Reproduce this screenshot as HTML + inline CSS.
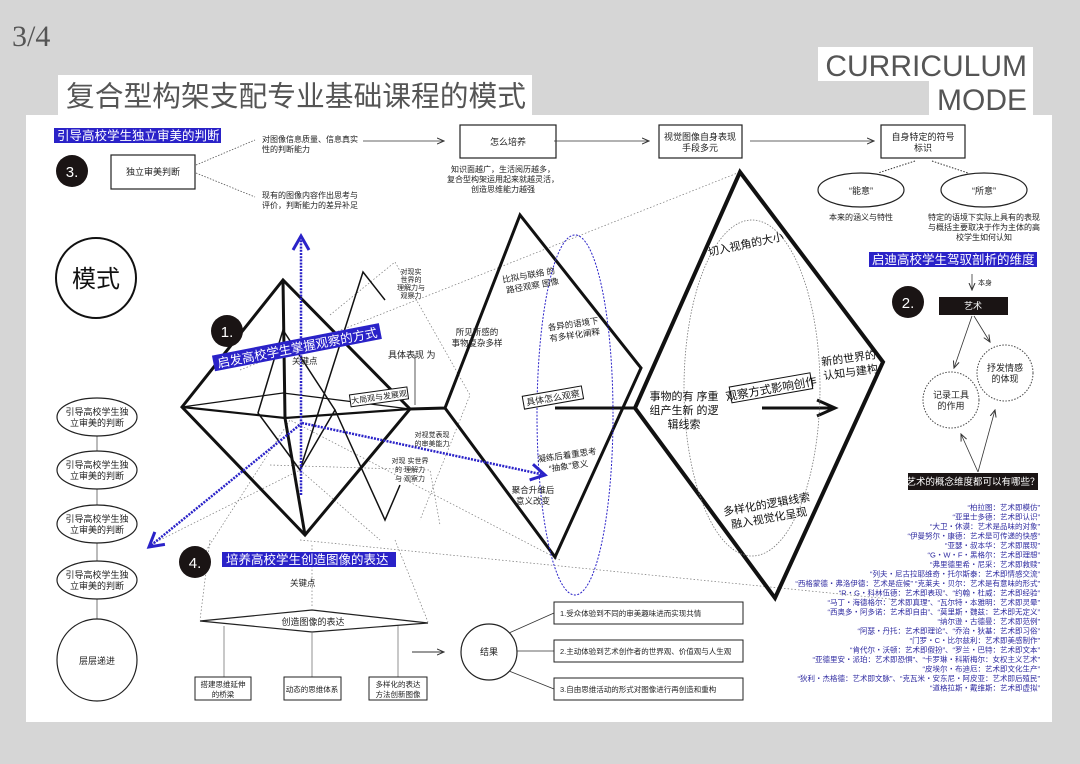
<!DOCTYPE html>
<html><head><meta charset="utf-8"><style>
html,body{margin:0;padding:0;background:#d6d6d6;}
svg{display:block;font-family:"Liberation Sans","Noto Sans CJK SC",sans-serif;}
</style></head><body>
<svg width="1080" height="764" viewBox="0 0 1080 764" xmlns="http://www.w3.org/2000/svg">
<defs>
<marker id="ah" markerWidth="8" markerHeight="8" refX="7" refY="4" orient="auto" markerUnits="userSpaceOnUse"><path d="M0,1 L7,4 L0,7" fill="none" stroke="#333" stroke-width="1"/></marker>
<marker id="bh" markerWidth="20" markerHeight="20" refX="16" refY="10" orient="auto" markerUnits="userSpaceOnUse"><path d="M2,2 L16,10 L2,18" fill="none" stroke="#2a22c8" stroke-width="3"/></marker>
<marker id="kh" markerWidth="24" markerHeight="20" refX="20" refY="10" orient="auto" markerUnits="userSpaceOnUse"><path d="M2,2 L20,10 L2,18" fill="none" stroke="#111" stroke-width="3"/></marker>
</defs>
<rect width="1080" height="764" fill="#d6d6d6"/>
<text x="12" y="46" font-family="Liberation Serif,serif" font-size="30" fill="#555">3/4</text>
<rect x="58" y="75" width="474" height="40" fill="#fff"/>
<text x="66" y="106" font-size="28.5" fill="#555" textLength="460" lengthAdjust="spacingAndGlyphs">复合型构架支配专业基础课程的模式</text>
<rect x="818" y="47" width="215" height="34" fill="#fff"/>
<rect x="929" y="81" width="104" height="34" fill="#fff"/>
<text x="1027" y="76" font-size="30" fill="#555" text-anchor="end">CURRICULUM</text>
<text x="1027" y="110" font-size="30" fill="#555" text-anchor="end">MODE</text>
<rect x="26" y="115" width="1026" height="607" fill="#fff"/>

<g font-size="8" fill="#222">
<rect x="54" y="128" width="167" height="15" fill="#2a22c8"/>
<text x="57" y="140" font-size="12.5" fill="#fff">引导高校学生独立审美的判断</text>
<circle cx="72" cy="171" r="16" fill="#1a1414"/>
<text x="72" y="177" font-size="15" fill="#fff" text-anchor="middle">3.</text>
<rect x="111" y="155" width="84" height="34" fill="none" stroke="#222" stroke-width="1.2"/>
<text x="153" y="175" font-size="9" text-anchor="middle">独立审美判断</text>
<path d="M196,165 L255,140 M196,173 L255,197" stroke="#555" stroke-dasharray="1.5,1.5" stroke-width=".8"/>
<text x="262" y="142">对图像信息质量、信息真实</text><text x="262" y="152">性的判断能力</text>
<text x="262" y="198">现有的图像内容作出思考与</text><text x="262" y="208">评价，判断能力的差异补足</text>
<line x1="363" y1="141" x2="444" y2="141" stroke="#333" stroke-width=".8" marker-end="url(#ah)"/>
<rect x="460" y="125" width="96" height="33" fill="none" stroke="#222" stroke-width="1.2"/>
<text x="508" y="145" font-size="9" text-anchor="middle">怎么培养</text>
<text x="503" y="172" text-anchor="middle">知识面越广，生活阅历越多，</text>
<text x="503" y="182" text-anchor="middle">复合型构架运用起来就越灵活，</text>
<text x="503" y="192" text-anchor="middle">创造思维能力越强</text>
<line x1="554" y1="141" x2="649" y2="141" stroke="#333" stroke-width=".8" marker-end="url(#ah)"/>
<rect x="659" y="125" width="83" height="33" fill="none" stroke="#222" stroke-width="1.2"/>
<text x="700" y="140" font-size="9" text-anchor="middle">视觉图像自身表现</text>
<text x="700" y="151" font-size="9" text-anchor="middle">手段多元</text>
<line x1="750" y1="141" x2="874" y2="141" stroke="#333" stroke-width=".8" marker-end="url(#ah)"/>
<rect x="881" y="125" width="84" height="33" fill="none" stroke="#222" stroke-width="1.2"/>
<text x="923" y="140" font-size="9" text-anchor="middle">自身特定的符号</text>
<text x="923" y="151" font-size="9" text-anchor="middle">标识</text>
<path d="M915,161 L878,173 M932,161 L968,173" stroke="#333" stroke-dasharray="1.5,1.5"/>
<ellipse cx="861" cy="190" rx="43" ry="17" fill="none" stroke="#222" stroke-width="1.2"/>
<ellipse cx="984" cy="190" rx="43" ry="17" fill="none" stroke="#222" stroke-width="1.2"/>
<text x="861" y="194" font-size="9" text-anchor="middle">“能意”</text>
<text x="984" y="194" font-size="9" text-anchor="middle">“所意”</text>
<text x="861" y="220" text-anchor="middle">本来的涵义与特性</text>
<text x="984" y="220" text-anchor="middle">特定的语境下实际上具有的表现</text>
<text x="984" y="230" text-anchor="middle">与概括主要取决于作为主体的高</text>
<text x="984" y="240" text-anchor="middle">校学生如何认知</text>
<rect x="869" y="252" width="168" height="15" fill="#2a22c8"/>
<text x="872" y="264" font-size="12.5" fill="#fff">启迪高校学生驾驭剖析的维度</text>
<line x1="972" y1="274" x2="972" y2="290" stroke="#333" stroke-width=".8" marker-end="url(#ah)"/>
<text x="978" y="285" font-size="7">本身</text>
<circle cx="908" cy="302" r="16" fill="#1a1414"/>
<text x="908" y="308" font-size="15" fill="#fff" text-anchor="middle">2.</text>
<rect x="939" y="297" width="69" height="18" fill="#1a1414"/>
<text x="973" y="309" font-size="9" fill="#fff" text-anchor="middle">艺术</text>
<line x1="972" y1="316" x2="954" y2="368" stroke="#333" stroke-width=".8" marker-end="url(#ah)"/>
<line x1="974" y1="316" x2="990" y2="342" stroke="#333" stroke-width=".8" marker-end="url(#ah)"/>
<circle cx="1005" cy="373" r="28" fill="none" stroke="#444" stroke-dasharray="1.5,1.5"/>
<text x="1005" y="371" font-size="9" text-anchor="middle">抒发情感</text><text x="1005" y="382" font-size="9" text-anchor="middle">的体现</text>
<circle cx="951" cy="400" r="28" fill="none" stroke="#444" stroke-dasharray="1.5,1.5"/>
<text x="951" y="398" font-size="9" text-anchor="middle">记录工具</text><text x="951" y="409" font-size="9" text-anchor="middle">的作用</text>
<line x1="978" y1="472" x2="961" y2="434" stroke="#333" stroke-width=".8" marker-end="url(#ah)"/>
<line x1="978" y1="472" x2="995" y2="410" stroke="#333" stroke-width=".8" marker-end="url(#ah)"/>
<rect x="908" y="473" width="130" height="17" fill="#1a1414"/>
<text x="973" y="485" font-size="9.5" fill="#fff" text-anchor="middle">艺术的概念维度都可以有哪些？</text>
<g font-size="7.5" fill="#2e2aa0" text-anchor="end">
<text x="1040" y="510">“柏拉图：艺术即模仿”</text>
<text x="1040" y="519.5">“亚里士多德：艺术即认识”</text>
<text x="1040" y="529">“大卫・休谟：艺术是品味的对象”</text>
<text x="1040" y="538.5">“伊曼努尔・康德：艺术是可传递的快感”</text>
<text x="1040" y="548">“亚瑟・叔本华：艺术即展现”</text>
<text x="1040" y="557.5">“G・W・F・黑格尔：艺术即理想”</text>
<text x="1040" y="567">“弗里德里希・尼采：艺术即救赎”</text>
<text x="1040" y="576.5">“列夫・尼古拉耶维奇・托尔斯泰：艺术即情感交流”</text>
<text x="1040" y="586">“西格蒙德・弗洛伊德：艺术是症候” “克莱夫・贝尔：艺术是有意味的形式”</text>
<text x="1040" y="595.5">“R・G・科林伍德：艺术即表现”、“约翰・杜威：艺术即经验”</text>
<text x="1040" y="605">“马丁・海德格尔：艺术即真理”、“瓦尔特・本雅明：艺术即灵晕”</text>
<text x="1040" y="614.5">“西奥多・阿多诺：艺术即自由”、“莫里斯・魏兹：艺术即无定义”</text>
<text x="1040" y="624">“纳尔逊・古德曼：艺术即范例”</text>
<text x="1040" y="633.5">“阿瑟・丹托：艺术即理论”、“乔治・狄基：艺术即习俗”</text>
<text x="1040" y="643">“门罗・C・比尔兹利：艺术即美感制作”</text>
<text x="1040" y="652.5">“肯代尔・沃顿：艺术即假扮”、“罗兰・巴特：艺术即文本”</text>
<text x="1040" y="662">“亚德里安・派珀：艺术即恐惧”、“卡罗琳・科斯梅尔：女权主义艺术”</text>
<text x="1040" y="671.5">“皮埃尔・布迪厄：艺术即文化生产”</text>
<text x="1040" y="681">“狄利・杰格德：艺术即文脉”、“克瓦米・安东尼・阿皮亚：艺术即后殖民”</text>
<text x="1040" y="690.5">“道格拉斯・戴维斯：艺术即虚拟”</text>
</g>

<circle cx="96" cy="278" r="40" fill="none" stroke="#111" stroke-width="2"/>
<text x="96" y="287" font-size="24" fill="#111" text-anchor="middle">模式</text>
<line x1="97" y1="400" x2="97" y2="635" stroke="#555" stroke-width=".8"/>
<g font-size="9">
<ellipse cx="97" cy="417" rx="40" ry="19" fill="#fff" stroke="#222" stroke-width="1.2"/>
<text x="97" y="415" text-anchor="middle">引导高校学生独</text><text x="97" y="426" text-anchor="middle">立审美的判断</text>
<ellipse cx="97" cy="470" rx="40" ry="19" fill="#fff" stroke="#222" stroke-width="1.2"/>
<text x="97" y="468" text-anchor="middle">引导高校学生独</text><text x="97" y="479" text-anchor="middle">立审美的判断</text>
<ellipse cx="97" cy="524" rx="40" ry="19" fill="#fff" stroke="#222" stroke-width="1.2"/>
<text x="97" y="522" text-anchor="middle">引导高校学生独</text><text x="97" y="533" text-anchor="middle">立审美的判断</text>
<ellipse cx="97" cy="580" rx="40" ry="19" fill="#fff" stroke="#222" stroke-width="1.2"/>
<text x="97" y="578" text-anchor="middle">引导高校学生独</text><text x="97" y="589" text-anchor="middle">立审美的判断</text>
<ellipse cx="97" cy="660" rx="40" ry="41" fill="#fff" stroke="#222" stroke-width="1.2"/>
<text x="97" y="664" text-anchor="middle">层层递进</text>
</g>

<g stroke="#777" stroke-width=".7" stroke-dasharray="1.5,2" fill="none">
<path d="M240,370 L740,172"/>
<path d="M300,540 L900,600"/>
<path d="M200,560 L290,420 L560,560"/>
<path d="M330,315 L395,262 L470,395 L420,520"/>
<path d="M270,465 L430,470 L440,525"/>
<path d="M210,540 L200,620 M312,545 L312,608 M395,540 L428,622"/>
<path d="M150,545 L300,470 L380,540"/>
</g>

<g stroke="#111" fill="none" stroke-linejoin="miter">
<path d="M182,407 L283,280 L410,409 L305,535 Z" stroke-width="3"/>
<path d="M283,280 L285,418 L305,535" stroke-width="3"/>
<path d="M182,407 L285,418 L410,409" stroke-width="2.2"/>
<path d="M182,407 L283,393 L410,409" stroke-width="1.2"/>
<path d="M258,413 L283,330 L335,410 L300,470 Z" stroke-width="1.5"/>
<path d="M300,470 L363,272 L385,300" stroke-width="1.5"/>
<path d="M335,410 L385,520 L400,485" stroke-width="1.5"/>
<path d="M410,409 L445,408 L520,215 L641,368 L555,557 L445,408" stroke-width="3"/>
<path d="M555,408 L635,408" stroke-width="3"/>
<path d="M635,408 L740,172 L883,362 L775,598 Z" stroke-width="4"/>
<line x1="762" y1="408" x2="835" y2="408" stroke-width="3" marker-end="url(#kh)"/>
<line x1="415" y1="355" x2="415" y2="405" stroke-width=".7"/>
</g>
<ellipse cx="752" cy="388" rx="68" ry="168" fill="none" stroke="#777" stroke-width=".8" stroke-dasharray="1.5,1.5"/>
<ellipse cx="575" cy="415" rx="38" ry="180" fill="none" stroke="#2a22c8" stroke-width="1" stroke-dasharray="2,1.5"/>

<g stroke="#2a22c8" stroke-width="2.5" stroke-dasharray="2,1.2" fill="none">
<line x1="301" y1="495" x2="301" y2="236" marker-end="url(#bh)"/>
<line x1="302" y1="423" x2="545" y2="475" marker-end="url(#bh)"/>
<line x1="302" y1="423" x2="149" y2="547" marker-end="url(#bh)"/>
</g>
<circle cx="227" cy="331" r="16" fill="#1a1414"/>
<text x="227" y="337" font-size="15" fill="#fff" text-anchor="middle">1.</text>
<g transform="rotate(-11 293 348)">
<rect x="212" y="340" width="170" height="16" fill="#2a22c8"/>
<text x="216" y="353" font-size="12.5" fill="#fff">启发高校学生掌握观察的方式</text>
</g>
<text x="292" y="364" font-size="8.5">关键点</text>
<text x="388" y="358" font-size="9">具体表现 为</text>
<g transform="rotate(-8 378 397)"><rect x="350" y="391" width="58" height="12" fill="#fff" stroke="#111"/><text x="379" y="400" font-size="8" text-anchor="middle">大局观与发展观</text></g>
<g transform="rotate(-10 553 398)"><rect x="523" y="391" width="60" height="13" fill="#fff" stroke="#111"/><text x="553" y="401" font-size="9" text-anchor="middle">具体怎么观察</text></g>
<g font-size="7" text-anchor="middle">
<text x="411" y="274">对现实</text><text x="411" y="282">世界的</text><text x="411" y="290">理解力与</text><text x="411" y="298">观察力</text>
<text x="432" y="437">对视觉表现</text><text x="432" y="446">的审美能力</text>
<text x="410" y="463">对现 实世界</text><text x="410" y="472">的 理解力</text><text x="410" y="481">与 观察力</text>
</g>
<g font-size="8.5" text-anchor="middle">
<text x="530" y="278" transform="rotate(-10 530 283)">比拟与联络 的</text><text x="532" y="289" transform="rotate(-10 530 283)">路径观察 图像</text>
<text x="477" y="335">所见所感的</text><text x="477" y="346">事物复杂多样</text>
<text x="574" y="327" transform="rotate(-8 574 330)">各异的语境下</text><text x="574" y="338" transform="rotate(-8 574 330)">有多样化阐释</text>
<text x="568" y="458" transform="rotate(-8 568 462)">凝练后着重思考</text><text x="568" y="469" transform="rotate(-8 568 462)">“抽象”意义</text>
<text x="533" y="493">聚合升维后</text><text x="533" y="504">意义改变</text>
</g>
<g font-size="11" text-anchor="middle" fill="#111">
<text x="746" y="248" transform="rotate(-12 746 245)">切入视角的大小</text>
<text x="684" y="400">事物的有 序重</text><text x="684" y="414">组产生新 的逻</text><text x="684" y="428">辑线索</text>
<text x="850" y="362" transform="rotate(-8 850 368)">新的世界的</text><text x="850" y="376" transform="rotate(-8 850 368)">认知与建构</text>
<g transform="rotate(-10 770 388)"><rect x="730" y="380" width="82" height="16" fill="#fff" stroke="#111"/><text x="771" y="393" font-size="11.5">观察方式影响创作</text></g>
<text x="768" y="508" transform="rotate(-10 768 512)">多样化的逻辑线索</text><text x="768" y="522" transform="rotate(-10 768 512)">融入视觉化呈现</text>
</g>

<circle cx="195" cy="562" r="16" fill="#1a1414"/>
<text x="195" y="568" font-size="15" fill="#fff" text-anchor="middle">4.</text>
<rect x="222" y="552" width="174" height="15" fill="#2a22c8"/>
<text x="226" y="564" font-size="12.5" fill="#fff">培养高校学生创造图像的表达</text>
<text x="290" y="586" font-size="8.5">关键点</text>
<path d="M200,621 L312,610 L428,623 L312,632 Z" fill="#fff" stroke="#222" stroke-width="1.2"/>
<text x="313" y="625" font-size="9" text-anchor="middle">创造图像的表达</text>
<path d="M224,626 L224,677 M312,632 L312,677 M398,626 L398,677" stroke="#777" stroke-width=".8"/>
<rect x="195" y="677" width="56" height="23" fill="#fff" stroke="#222"/>
<text x="223" y="687" font-size="7.5" text-anchor="middle">搭建思维延伸</text><text x="223" y="697" font-size="7.5" text-anchor="middle">的桥梁</text>
<rect x="284" y="677" width="57" height="23" fill="#fff" stroke="#222"/>
<text x="312" y="692" font-size="7.5" text-anchor="middle">动态的思维体系</text>
<rect x="369" y="677" width="58" height="23" fill="#fff" stroke="#222"/>
<text x="398" y="687" font-size="7.5" text-anchor="middle">多样化的表达</text><text x="398" y="697" font-size="7.5" text-anchor="middle">方法创新图像</text>
<line x1="412" y1="652" x2="444" y2="652" stroke="#333" stroke-width="1" marker-end="url(#ah)"/>
<circle cx="489" cy="652" r="28" fill="#fff" stroke="#222" stroke-width="1.2"/>
<text x="489" y="655" font-size="9" text-anchor="middle">结果</text>
<path d="M509,633 L554,613 M517,651 L554,651 M509,671 L554,689" stroke="#333" stroke-width=".8"/>
<rect x="554" y="602" width="189" height="22" fill="#fff" stroke="#222"/>
<text x="560" y="616" font-size="7.5">1.受众体验到不同的审美趣味进而实现共情</text>
<rect x="554" y="640" width="189" height="22" fill="#fff" stroke="#222"/>
<text x="560" y="654" font-size="7.5">2.主动体验到艺术创作者的世界观、价值观与人生观</text>
<rect x="554" y="678" width="189" height="22" fill="#fff" stroke="#222"/>
<text x="560" y="692" font-size="7.5">3.自由思维活动的形式对图像进行再创造和重构</text>
</g>
</svg>
</body></html>
